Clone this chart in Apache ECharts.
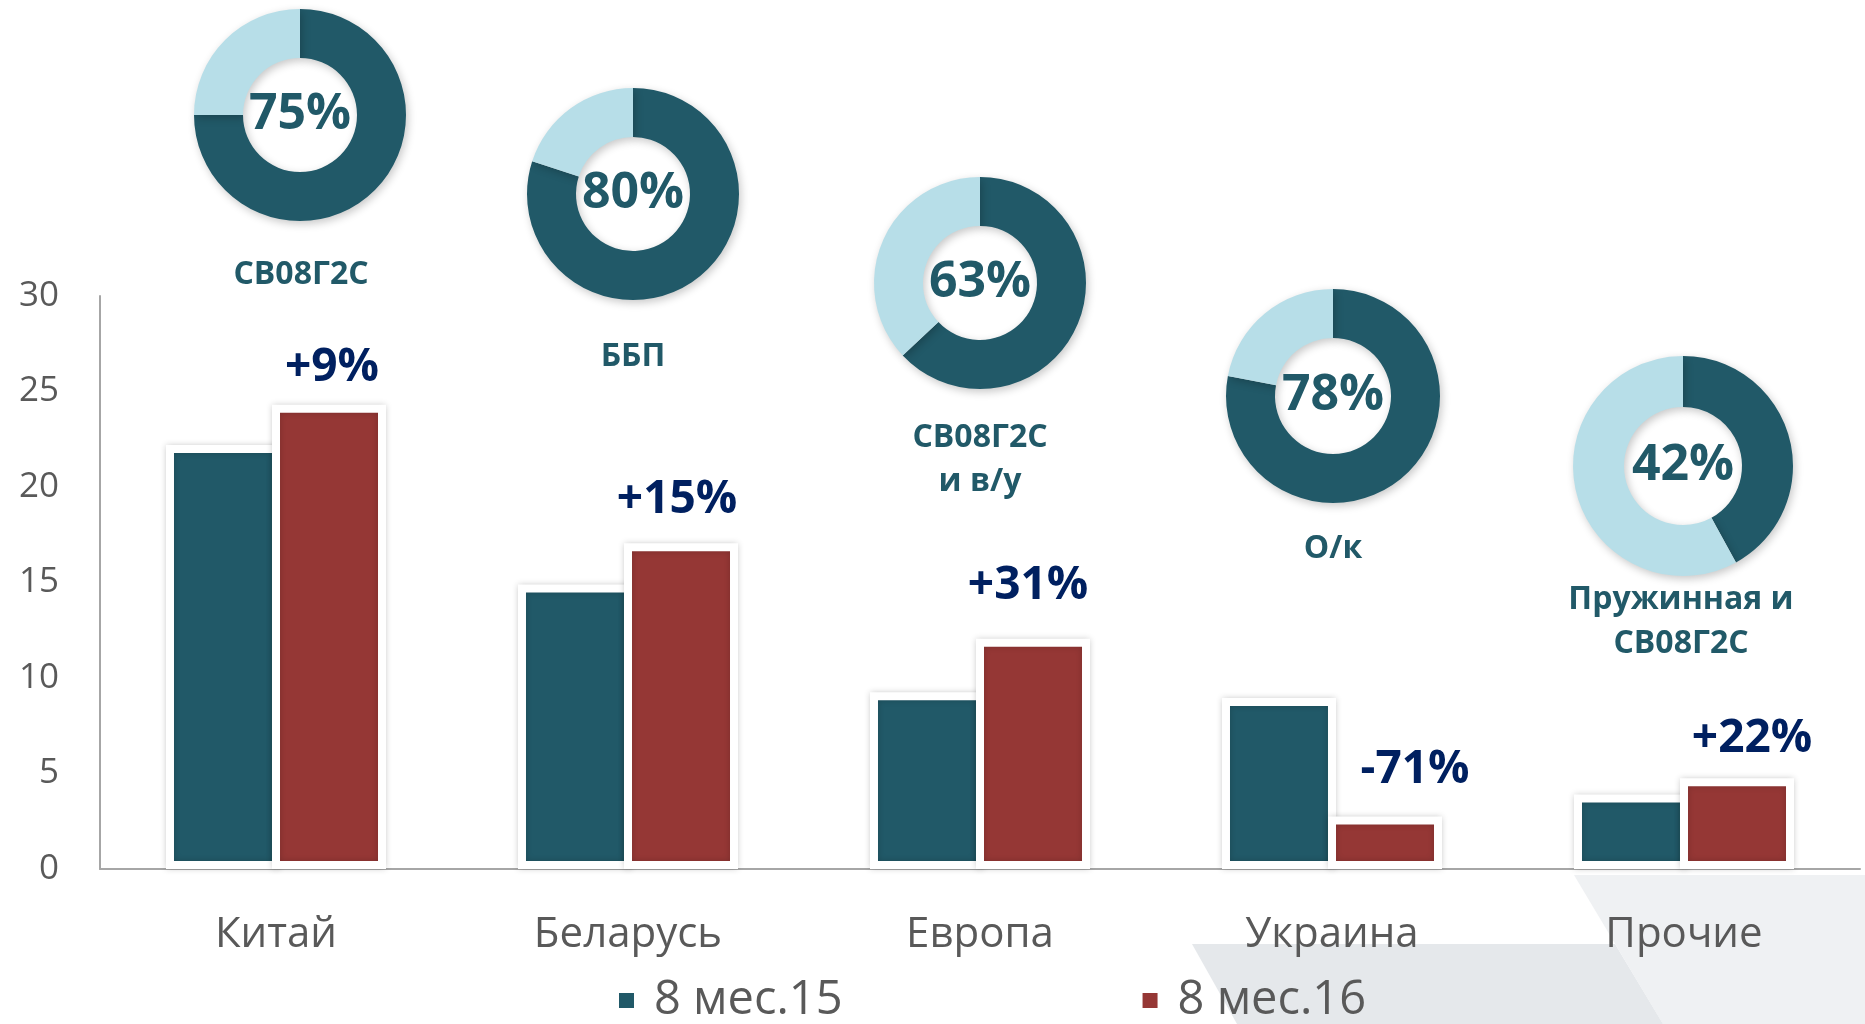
<!DOCTYPE html>
<html>
<head>
<meta charset="utf-8">
<script src="https://cdn.jsdelivr.net/npm/echarts@6/dist/echarts.min.js"></script>
<style>
  html, body { margin: 0; padding: 0; background: #fff; }
  #chart { width: 1865px; height: 1024px; }
</style>
</head>
<body>
<div id="chart"></div>
<script>
// данные
const categories = ['Китай', 'Беларусь', 'Европа', 'Украина', 'Прочие'];
const seriesNames = ['8 мес.15', '8 мес.16'];
const values15 = [22.2, 14.9, 9.25, 8.95, 3.9];
const values16 = [24.3, 17.05, 12.05, 2.75, 4.75];
const changes = ['+9%', '+15%', '+31%', '-71%', '+22%'];
const shares = [75, 80, 63, 78, 42];
const products = ['СВ08Г2С', 'ББП', 'СВ08Г2С\nи в/у', 'О/к', 'Пружинная и\nСВ08Г2С'];

// раскладка (пиксели)
const donutCenters = [[300, 115], [633, 194], [980, 283], [1333, 396], [1683, 466]];
const donutOuter = [106, 106, 106, 107, 110];
const nameCenters = [[301, 275], [633, 357], [980, 460], [1333, 549], [1681, 622]];
const changeOffsets = [[3, -2], [-4, -8], [-5, -18], [30, -12], [15, -4]];

const TEAL = '#215968', RED = '#953735', LIGHT = '#b7dee8', NAVY = '#002060', GREY = '#595959';
const FONT = '"Open Sans", "Noto Sans", sans-serif';

const chart = echarts.init(document.getElementById('chart'), null, {renderer: 'canvas'});

// белая рамка вокруг столбика
const barStyle = color => ({
    color: color,
    borderColor: '#ffffff',
    borderWidth: 8,
    shadowBlur: 6,
    shadowColor: 'rgba(0,0,0,0.18)'
});

const pies = shares.map((v, i) => ({
    type: 'pie',
    center: donutCenters[i],
    radius: [Math.round(donutOuter[i] * 0.54), donutOuter[i]],
    startAngle: 90,
    clockwise: true,
    silent: true,
    z: 5,
    label: {show: false},
    labelLine: {show: false},
    itemStyle: {shadowBlur: 8, shadowOffsetX: 2, shadowOffsetY: 3, shadowColor: 'rgba(0,0,0,0.22)'},
    data: [
        {value: v, itemStyle: {color: TEAL},
         label: {show: true, position: 'center', formatter: v + '%', color: TEAL,
                 fontSize: 50, fontWeight: 'bold', fontFamily: FONT, padding: [4, 0, 0, 0]}},
        {value: 100 - v, itemStyle: {color: LIGHT}}
    ]
}));

const option = {
    backgroundColor: '#ffffff',
    animation: false,
    grid: {left: 100, right: 5, top: 296, bottom: 155, containLabel: false},
    legend: {
        data: seriesNames,
        left: 612,
        top: 972,
        icon: 'rect',
        itemWidth: 17,
        itemHeight: 17,
        itemGap: 298,
        textStyle: {color: GREY, fontSize: 47, fontFamily: FONT, padding: [0, 0, 0, 14]}
    },
    xAxis: {
        type: 'category',
        data: categories,
        axisLine: {lineStyle: {color: '#a6a6a6', width: 2}},
        axisTick: {show: false},
        axisLabel: {color: GREY, fontSize: 42, fontFamily: FONT, margin: 45}
    },
    yAxis: {
        type: 'value',
        min: 0,
        max: 30,
        interval: 5,
        axisLine: {show: true, lineStyle: {color: '#a6a6a6', width: 2}},
        axisTick: {show: false},
        splitLine: {show: false},
        axisLabel: {color: GREY, fontSize: 35, fontFamily: FONT, margin: 41}
    },
    graphic: [
        {type: 'polygon', z: -10, silent: true,
         shape: {points: [[1574, 875], [1865, 875], [1865, 1024], [1663, 1024]]},
         style: {fill: '#eff1f3'}},
        {type: 'polygon', z: -10, silent: true,
         shape: {points: [[1192, 944], [1615, 944], [1663, 1024], [1237, 1024]]},
         style: {fill: '#e5e8eb'}}
    ].concat(products.map((t, i) => ({
        type: 'text', z: 10, silent: true,
        x: nameCenters[i][0], y: nameCenters[i][1],
        style: {text: t, align: 'center', verticalAlign: 'middle', fill: TEAL,
                fontSize: 32, fontWeight: 'bold', fontFamily: FONT, lineHeight: 44}
    }))),
    series: [
        {
            name: seriesNames[0],
            type: 'bar',
            data: values15,
            barWidth: 114,
            barGap: '-7%',
            itemStyle: barStyle(TEAL)
        },
        {
            name: seriesNames[1],
            type: 'bar',
            data: values16.map((v, i) => ({
                value: v,
                label: {offset: changeOffsets[i]}
            })),
            barWidth: 114,
            barGap: '-7%',
            itemStyle: barStyle(RED),
            label: {
                show: true,
                position: 'top',
                distance: 12,
                formatter: p => changes[p.dataIndex],
                color: NAVY,
                fontSize: 46,
                fontWeight: 'bold',
                fontFamily: FONT
            }
        }
    ].concat(pies)
};

chart.setOption(option);
window.addEventListener('resize', () => chart.resize());
</script>
</body>
</html>
